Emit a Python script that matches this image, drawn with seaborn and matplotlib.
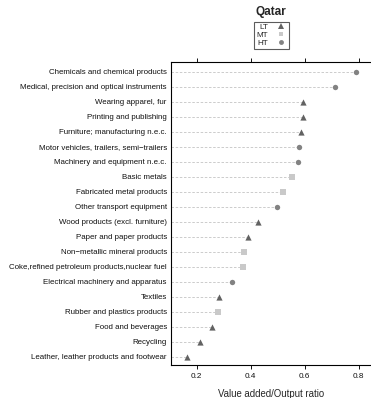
import seaborn as sns
import pandas as pd
import matplotlib.pyplot as plt
from matplotlib.lines import Line2D


# sectors from top to bottom, with their value added / output ratio and tech class
sectors = ['Chemicals and chemical products',
           'Medical, precision and optical instruments',
           'Wearing apparel, fur',
           'Printing and publishing',
           'Furniture; manufacturing n.e.c.',
           'Motor vehicles, trailers, semi\u2212trailers',
           'Machinery and equipment n.e.c.',
           'Basic metals',
           'Fabricated metal products',
           'Other transport equipment',
           'Wood products (excl. furniture)',
           'Paper and paper products',
           'Non\u2212metallic mineral products',
           'Coke,refined petroleum products,nuclear fuel',
           'Electrical machinery and apparatus',
           'Textiles',
           'Rubber and plastics products',
           'Food and beverages',
           'Recycling',
           'Leather, leather products and footwear']
ratios = [0.790, 0.712, 0.595, 0.594, 0.585, 0.579, 0.575, 0.553, 0.520, 0.497,
          0.428, 0.391, 0.375, 0.373, 0.331, 0.283, 0.279, 0.258, 0.213, 0.165]
tech = ['HT', 'HT', 'LT', 'LT', 'LT', 'HT', 'HT', 'MT', 'MT', 'HT',
        'LT', 'LT', 'MT', 'MT', 'HT', 'LT', 'MT', 'LT', 'LT', 'LT']
tech_levels = ['LT', 'MT', 'HT']
x_ticks = [0.2, 0.4, 0.6, 0.8]

df = pd.DataFrame({'Sector': sectors, 'Ratio': ratios, 'Tech': tech})

colors = {'LT': '#626262', 'MT': '#c9c9c9', 'HT': '#828282'}
markers = {'LT': '^', 'MT': 's', 'HT': 'o'}
sizes = {'LT': 20, 'MT': 13, 'HT': 15}

sns.set_theme(style="white")
plt.rcParams['font.family'] = ['Liberation Sans', 'DejaVu Sans']

fig = plt.figure(figsize=(3.71, 3.98), dpi=100)
ax = fig.add_axes([171 / 371, 1 - 365 / 398, 200 / 371, 303 / 398])

x_min, x_max = 0.105, 0.846
ax.set_xlim(x_min, x_max)
ax.set_ylim(len(sectors) - 0.45, -0.65)

# dashed guide lines from the left axis up to each dot
ax.hlines(y=range(len(sectors)), xmin=x_min, xmax=df['Ratio'], colors='#c4c4c4',
          linestyles=(0, (3, 2)), linewidth=0.6, zorder=1)

for t in tech_levels:
    sub = df[df['Tech'] == t]
    sns.scatterplot(x=sub['Ratio'], y=[sectors.index(s) for s in sub['Sector']], ax=ax,
                    marker=markers[t], color=colors[t], s=sizes[t], linewidth=0,
                    zorder=3, legend=False)

ax.set_yticks(range(len(sectors)))
ax.set_yticklabels(sectors)
ax.set_xticks(x_ticks)
ax.set_xticklabels([str(v) for v in x_ticks])
ax.tick_params(axis='y', length=0, labelsize=5.7, pad=3, colors='#111111')
ax.tick_params(axis='x', direction='out', length=3, width=0.7, labelsize=5.9,
               pad=3, top=True, bottom=True, colors='#111111')
ax.set_xlabel('Value added/Output ratio', fontsize=6.9, labelpad=6.5)
ax.set_ylabel('')

for side in ['left', 'top', 'bottom']:
    ax.spines[side].set_color('black')
    ax.spines[side].set_linewidth(0.8)
ax.spines['right'].set_visible(False)

fig.text(271 / 371, 1 - 12 / 398, 'Qatar', ha='center', va='center',
         fontsize=8.5, fontweight='bold')

handles = [Line2D([], [], linestyle='none', marker=markers[t], color=colors[t],
                  markersize=3.5 if t != 'LT' else 4, markeredgewidth=0) for t in tech_levels]
leg = fig.legend(handles, tech_levels, loc='upper center',
                 bbox_to_anchor=(271.5 / 371, 1 - 21.5 / 398), markerfirst=False,
                 fontsize=5.9, frameon=True, fancybox=False, edgecolor='#333333',
                 handlelength=1.3, handletextpad=1.0, labelspacing=0.0,
                 borderpad=0.25, borderaxespad=0)
leg.get_frame().set_linewidth(0.8)

plt.savefig('out.png', dpi=100)
